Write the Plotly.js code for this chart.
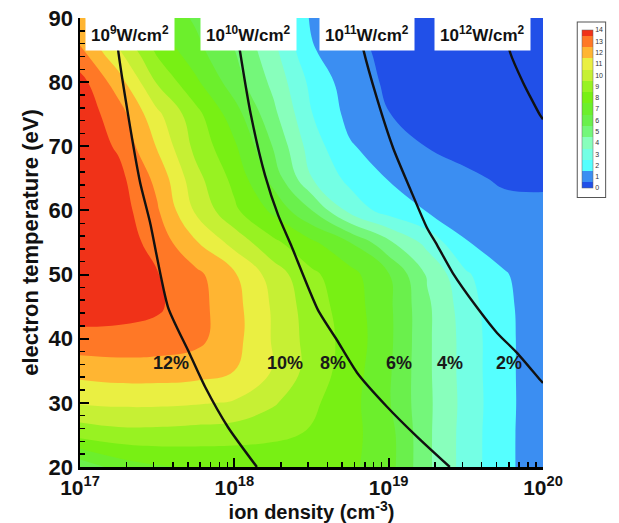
<!DOCTYPE html>
<html><head><meta charset="utf-8">
<script src="https://cdn.plot.ly/plotly-3.0.1.min.js"></script>
<style>html,body{margin:0;padding:0;background:#fff}#chart{width:619px;height:523px}</style>
</head><body><div id="chart"></div>
<script>
// ion density grid (cm^-3)
const ionDensity = [1e17, 1.778e17, 3.162e17, 5.623e17, 1e18, 1.778e18, 3.162e18, 5.623e18, 1e19, 1.778e19, 3.162e19, 5.623e19, 1e20];
// electron temperature grid (eV)
const electronTemp = [20, 25, 30, 35, 40, 45, 50, 55, 60, 65, 70, 75, 80, 85, 90];
// conversion efficiency (%) rows = electronTemp, cols = ionDensity
const efficiency = [
  [6.3, 7.4, 7.9, 8.1, 8.2, 8.3, 8.4, 8.2, 7.4, 5.2, 3.6, 2.2, 1.5],
  [9.3, 9.6, 9.6, 9.5, 9.4, 9.2, 8.9, 8.3, 7.4, 5.2, 3.6, 2.2, 1.5],
  [11.1, 11.2, 11.2, 11.1, 10.9, 10.13, 9.2, 8.36, 7.1, 5.22, 3.66, 2.22, 1.5],
  [12.35, 12.5, 12.5, 12.4, 12.0, 10.95, 9.6, 8.5, 7.15, 5.19, 3.61, 2.21, 1.5],
  [13.7, 13.7, 13.6, 13.3, 12.34, 10.92, 9.59, 8.63, 7.24, 5.19, 3.61, 2.21, 1.5],
  [14.5, 14.4, 14.15, 13.37, 12.34, 10.88, 9.46, 8.52, 7.21, 5.19, 3.47, 2.18, 1.5],
  [15.0, 14.6, 14.05, 13.26, 12.13, 10.55, 9.2, 8.35, 7.06, 4.88, 3.16, 2.07, 1.5],
  [15.0, 14.6, 13.6, 12.1, 10.64, 9.24, 8.21, 7.0, 5.21, 3.69, 2.05, 1.6, 1.5],
  [14.9, 14.5, 13.12, 10.84, 9.19, 7.8, 6.03, 3.67, 2.55, 1.95, 1.6, 1.3, 1.2],
  [14.8, 14.3, 12.72, 10.33, 8.71, 6.65, 4.03, 2.69, 1.95, 1.57, 1.19, 0.85, 0.85],
  [14.7, 13.86, 11.92, 9.71, 8.16, 5.96, 3.5, 2.09, 1.5, 0.97, 0.65, 0.5, 0.5],
  [14.6, 13.47, 11.24, 9.34, 7.45, 5.28, 3.04, 1.69, 1.02, 0.6, 0.5, 0.5, 0.5],
  [14.4, 12.46, 9.9, 8.2, 6.47, 4.76, 2.73, 1.48, 0.85, 0.6, 0.5, 0.5, 0.5],
  [13.1, 11.1, 8.77, 7.31, 6.02, 4.3, 2.1, 1.29, 0.75, 0.5, 0.5, 0.5, 0.5],
  [12.4, 9.43, 7.82, 6.84, 5.63, 3.86, 1.86, 1.06, 0.7, 0.5, 0.5, 0.5, 0.5]
];
// iso-power-density curves
const p9N  = [1.69e17, 1.76e17, 2.05e17, 2.45e17, 2.84e17, 3.72e17, 5.01e17, 6.46e17, 9.10e17, 1.40e18];
const p9T  = [90, 85.3, 74.9, 64.4, 58.2, 44.9, 38.2, 32.5, 26.2, 20];
const p10N = [1.01e18, 1.09e18, 1.28e18, 1.58e18, 1.92e18, 2.33e18, 3.48e18, 4.62e18, 6.24e18, 9.75e18, 1.53e19, 2.49e19];
const p10T = [90, 84.7, 74.9, 65.5, 59.3, 54.6, 44.5, 39.8, 34.7, 29.4, 24.7, 20];
const p11N = [6.24e18, 6.82e18, 8.39e18, 1.07e19, 1.37e19, 1.77e19, 2.06e19, 2.61e19, 3.73e19, 5.04e19, 6.79e19, 9.57e19, 1.0e20];
const p11T = [90, 85.3, 77.5, 69.7, 63.5, 57.3, 54.6, 50.2, 44.9, 40.9, 37.8, 33.6, 33.1];
const p12N = [5.51e19, 6.11e19, 7.41e19, 9.55e19, 1.0e20];
const p12T = [90, 84.7, 80.0, 74.9, 74.2];
// labels
const powerLabels = ['10<sup>9</sup>W/cm<sup>2</sup>', '10<sup>10</sup>W/cm<sup>2</sup>', '10<sup>11</sup>W/cm<sup>2</sup>', '10<sup>12</sup>W/cm<sup>2</sup>'];
const powerLabelN = [2.11e17, 1.23e18, 7.24e18, 4.07e19];
const powerLabelT = 87.5;
const pctLabels = ['12%', '10%', '8%', '6%', '4%', '2%'];
const pctN = [3.89e17, 2.14e18, 4.37e18, 1.17e19, 2.51e19, 6.03e19];
const pctT = 36.2;
const xTickVals = [1e17, 1e18, 1e19, 1e20];
const xTickText = ['10<sup>17</sup>', '10<sup>18</sup>', '10<sup>19</sup>', '10<sup>20</sup>'];
const cbarLevels = [0,1,2,3,4,5,6,7,8,9,10,11,12,13,14];
const bandColors = ['#2150e8','#3b8ef2','#55ffff','#74ffe4','#88ffbc','#74f77a','#6af04c','#6cef2c',
                    '#78f014','#98f222','#c6f034','#eaef42','#ffb532','#ff7826','#f03218'];

const minorX = [];
[1e17, 1e18, 1e19].forEach(d => { for (let k = 2; k <= 9; k++) minorX.push(k * d); });

const colorscale = bandColors.map((c, i) => [i / (bandColors.length - 1), c]);
const FONT = 'Arial, "Liberation Sans", sans-serif';

const traces = [{
  type: 'contour', x: ionDensity, y: electronTemp, z: efficiency,
  autocontour: false, contours: {start: 1, end: 14, size: 1, coloring: 'fill', showlines: false},
  line: {width: 0, smoothing: 1.2},
  colorscale: colorscale, hoverinfo: 'skip',
  colorbar: {
    x: 1.075, xanchor: 'left', y: 0.991, yanchor: 'top',
    lenmode: 'pixels', len: 174, thickness: 11, xpad: 4, ypad: 8,
    bgcolor: '#fff', bordercolor: '#555', borderwidth: 1, outlinewidth: 0.5, outlinecolor: '#666',
    tickmode: 'array', tickvals: cbarLevels.map(v => v + 0.5), ticktext: cbarLevels.map(String),
    ticks: '', tickfont: {family: FONT, size: 7, color: '#333'}
  }
}];
[[p9N, p9T], [p10N, p10T], [p11N, p11T], [p12N, p12T]].forEach(([xs, ys]) => {
  traces.push({type: 'scatter', mode: 'lines', x: xs, y: ys, line: {color: '#111', width: 2.4, shape: 'spline', smoothing: 0.6},
               hoverinfo: 'skip', showlegend: false});
});

const annotations = [];
powerLabels.forEach((t, i) => annotations.push({
  x: Math.log10(powerLabelN[i]), y: powerLabelT, xref: 'x', yref: 'y', text: t, showarrow: false,
  bgcolor: '#fff', borderpad: 5, font: {family: FONT, size: 17, weight: 'bold', color: '#111'}
}));
pctLabels.forEach((t, i) => annotations.push({
  x: Math.log10(pctN[i]), y: pctT, xref: 'x', yref: 'y', text: t, showarrow: false,
  font: {family: FONT, size: 18, weight: 'bold', color: '#1a1a1a'}
}));

const layout = {
  width: 619, height: 523, margin: {l: 80, r: 76, t: 18, b: 56},
  paper_bgcolor: '#fff', plot_bgcolor: '#fff', showlegend: false,
  xaxis: {
    type: 'log', range: [17, 20], tickmode: 'array', tickvals: xTickVals, ticktext: xTickText,
    ticks: 'inside', ticklen: 9, tickwidth: 2, tickcolor: '#000',
    showline: true, linewidth: 2.5, linecolor: '#000', showgrid: false, zeroline: false, mirror: false,
    tickfont: {family: FONT, size: 21, weight: 'bold', color: '#111'},
    minor: {tickmode: 'array', tickvals: minorX, ticks: 'inside', ticklen: 5, tickwidth: 1.5, tickcolor: '#000', showgrid: false},
    title: {text: 'ion density (cm<sup>-3</sup>)', font: {family: FONT, size: 20, weight: 'bold', color: '#111'}, standoff: 0}
  },
  yaxis: {
    range: [20, 90], tick0: 20, dtick: 10,
    ticks: 'inside', ticklen: 9, tickwidth: 2, tickcolor: '#000',
    showline: true, linewidth: 2.5, linecolor: '#000', showgrid: false, zeroline: false,
    tickfont: {family: FONT, size: 22, weight: 'bold', color: '#111'},
    minor: {dtick: 2, ticks: 'inside', ticklen: 5, tickwidth: 1.5, tickcolor: '#000', showgrid: false},
    title: {text: 'electron temperature (eV)', font: {family: FONT, size: 22, weight: 'bold', color: '#111'}, standoff: 4}
  },
  annotations: annotations
};
Plotly.newPlot('chart', traces, layout, {displayModeBar: false, staticPlot: true});
</script></body></html>
